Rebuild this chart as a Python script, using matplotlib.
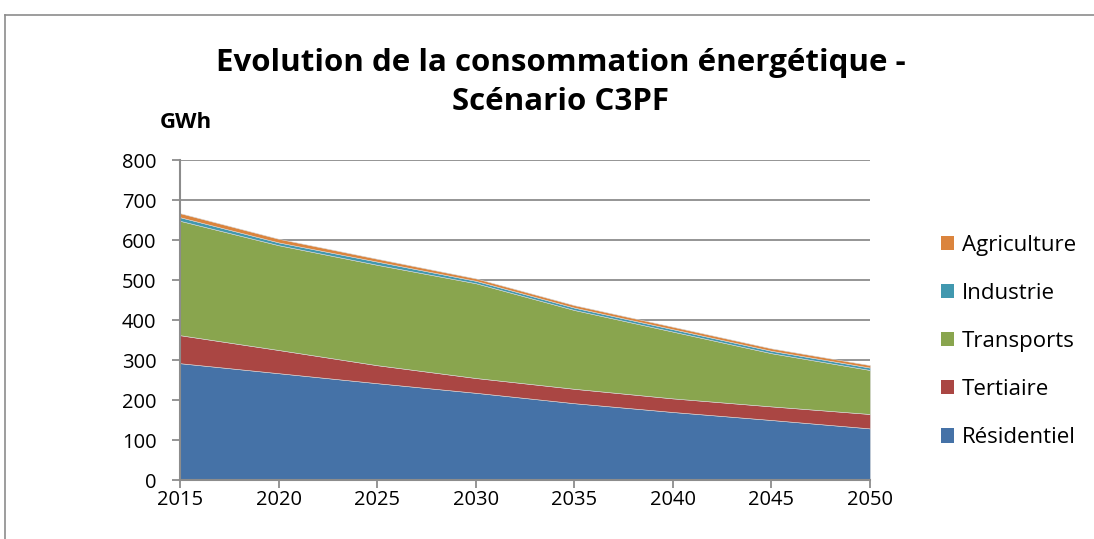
import matplotlib
matplotlib.use("Agg")
import matplotlib.pyplot as plt
from matplotlib.lines import Line2D
from matplotlib.patches import Patch

years = [2015, 2020, 2025, 2030, 2035, 2040, 2045, 2050]
residentiel = [292, 267, 242, 218, 192, 170, 150, 129]
tertiaire = [70, 58, 45, 37, 36, 34, 34, 36]
transports = [286, 262, 251, 237, 197, 167, 133, 110]
industrie = [9, 7, 8, 6, 6, 6, 6, 6]
agriculture = [10, 9, 7, 6, 6, 6, 6, 6]

series_names = ["Résidentiel", "Tertiaire", "Transports", "Industrie", "Agriculture"]
colors = ["#4572A7", "#AA4643", "#89A54E", "#4198AF", "#DB843D"]
yticks = [0, 100, 200, 300, 400, 500, 600, 700, 800]

W, H = 1094, 539
fig = plt.figure(figsize=(W / 100, H / 100), dpi=100)
plt.rcParams['font.family'] = ['Open Sans', 'DejaVu Sans']

ax = fig.add_axes([180 / W, 1 - 480 / H, 690 / W, 320 / H])
ax.stackplot(years, residentiel, tertiaire, transports, industrie, agriculture,
             colors=colors, edgecolor="#d8d8d8", linewidth=0.4, zorder=3)

ax.set_xlim(2015, 2050)
ax.set_ylim(0, 800)
ax.set_xticks(years)
ax.set_yticks(yticks)
ax.yaxis.grid(True, color="#8c8c8c", linewidth=1.3, zorder=1)
ax.set_axisbelow(True)
for s in ["top", "right"]:
    ax.spines[s].set_visible(False)
for s in ["left", "bottom"]:
    ax.spines[s].set_color("#8c8c8c")
    ax.spines[s].set_linewidth(1.5)
    ax.spines[s].set_zorder(5)
ax.tick_params(axis="both", colors="#8c8c8c", length=6, width=1.3, labelcolor="black",
               labelsize=14.5, direction="out")
ax.tick_params(axis="y", pad=11)
ax.tick_params(axis="x", pad=1)

fig.text(561 / W, 1 - 63 / H, "Evolution de la consommation énergétique -",
         ha="center", va="center", fontsize=22.5, fontweight="bold")
fig.text(561 / W, 1 - 102 / H, "Scénario C3PF",
         ha="center", va="center", fontsize=22.5, fontweight="bold")
fig.text(186 / W, 1 - 122 / H, "GWh", ha="center", va="center",
         fontsize=16, fontweight="bold")

handles = [Patch(facecolor=c, edgecolor="none") for c in colors[::-1]]
leg = fig.legend(handles, series_names[::-1], loc="upper left",
                 bbox_to_anchor=(932 / W, 1 - 226 / H), frameon=False,
                 fontsize=16, handlelength=0.6, handleheight=0.6,
                 handletextpad=0.35, labelspacing=1.22, borderaxespad=0)

# outer chart border
fig.add_artist(Line2D([5 / W, 1.0], [1 - 15 / H, 1 - 15 / H], color="#8c8c8c", linewidth=1.2))
fig.add_artist(Line2D([5 / W, 5 / W], [0, 1 - 15 / H], color="#8c8c8c", linewidth=1.2))

fig.savefig("out.png", dpi=100)
